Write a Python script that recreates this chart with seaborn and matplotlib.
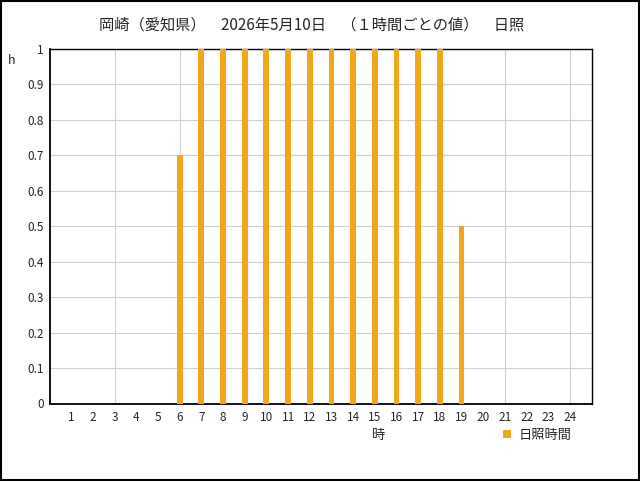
import numpy as np
import pandas as pd
import matplotlib
matplotlib.use("Agg")
import matplotlib.pyplot as plt
import matplotlib.transforms as mtransforms
from matplotlib.patches import Rectangle
import seaborn as sns

# hourly sunshine values
hours = list(range(1, 25))
sunshine = [0, 0, 0, 0, 0, 0.7, 1, 1, 1, 1, 1, 1,
            1, 1, 1, 1, 1, 1, 0.5, 0, 0, 0, 0, 0]
y_ticks = [round(v * 0.1, 1) for v in range(11)]
y_labels = ["0"] + [f"{v:.1f}" for v in y_ticks[1:-1]] + ["1"]
grid_hours = [3, 6, 9, 12, 15, 18, 21, 24]

title = "岡崎（愛知県）　2026年5月10日　（１時間ごとの値）　日照"
series_name = "日照時間"

df = pd.DataFrame({"hour": hours, "sunshine": sunshine})

sns.set_style("white")
plt.rcParams["font.family"] = ["Noto Sans CJK JP", "DejaVu Sans"]

bar_color = "#F2A71B"

fig = plt.figure(figsize=(6.4, 4.82), dpi=100)
ax = fig.add_axes([49.5 / 640, 78.5 / 482, 542.2 / 640, 354.5 / 482])

sns.barplot(data=df, x="hour", y="sunshine", native_scale=True, width=0.27,
            color=bar_color, saturation=1, label=series_name, ax=ax,
            linewidth=0, edgecolor="none", zorder=3)

ax.set_xlim(0, 25)
ax.set_ylim(0, 1)

# grid every 3 hours (major), hour labels as minor ticks
ax.xaxis.remove_overlapping_locs = False
ax.set_xticks(grid_hours)
ax.set_xticklabels([])
ax.set_xticks(hours, minor=True)
ax.set_xticklabels([str(h) for h in hours], minor=True, fontsize=8.5)
# tick labels sit a few pixels right of the bars
offset = mtransforms.ScaledTranslation(3 / 100, 0, fig.dpi_scale_trans)
for lbl in ax.get_xticklabels(minor=True):
    lbl.set_transform(lbl.get_transform() + offset)

ax.set_yticks(y_ticks)
ax.set_yticklabels(y_labels, fontsize=8.5)

ax.tick_params(axis="both", which="both", length=0)
ax.tick_params(axis="x", which="both", pad=5.5)
ax.tick_params(axis="y", pad=4)

ax.grid(True, which="major", color="#CFCFCF", linewidth=0.8)
ax.grid(False, which="minor")
ax.set_axisbelow(True)

for s in ax.spines.values():
    s.set_visible(True)
    s.set_color("black")
    s.set_linewidth(1.0)
ax.spines["left"].set_linewidth(1.3)
ax.spines["bottom"].set_linewidth(1.3)

ax.set_xlabel("")
ax.set_ylabel("")

fig.text(312 / 640, 1 - 25 / 482, title, ha="center", va="center", fontsize=11)
fig.text(12 / 640, 1 - 60 / 482, "h", ha="center", va="center", fontsize=9)
fig.text(379 / 640, 1 - 436 / 482, "時", ha="center", va="center", fontsize=9.5)

ax.legend(loc="center left", bbox_to_anchor=(503 / 640, 1 - 435 / 482),
          bbox_transform=fig.transFigure, frameon=False, fontsize=9.5,
          handlelength=0.6, handleheight=0.6, handletextpad=0.6, borderpad=0,
          borderaxespad=0)

fig.patches.append(Rectangle((0.5 / 640, 2 / 482), 638.5 / 640, 479 / 482,
                             transform=fig.transFigure, fill=False,
                             edgecolor="black", linewidth=1.5))

fig.savefig("out.png", dpi=100)
